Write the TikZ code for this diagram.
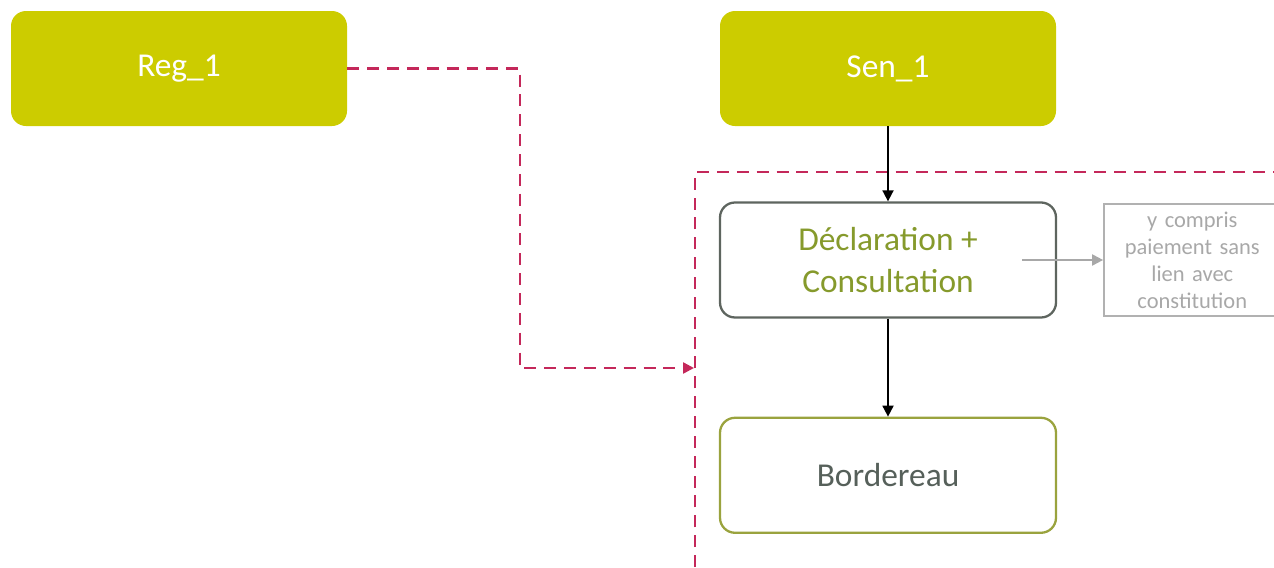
\documentclass[tikz,border=0pt]{standalone}
\usepackage{fontspec}
\setmainfont{Carlito}
\usepackage{tikz}
\usetikzlibrary{arrows.meta,positioning,calc}
\definecolor{RegYellow}{HTML}{CCCC00}
\definecolor{RegCrimson}{HTML}{C4285A}
\definecolor{RegSlate}{HTML}{5E655F}
\definecolor{RegOlive}{HTML}{869A2C}
\definecolor{RegMoss}{HTML}{9AA33E}
\definecolor{RegText}{HTML}{56605A}
\definecolor{RegGrey}{HTML}{A8A8A8}

\begin{document}
\begin{tikzpicture}[
    actor/.style={fill=RegYellow, rounded corners=3mm, minimum width=6.72cm,
      minimum height=2.30cm, text=white, font=\fontsize{19}{23}\selectfont},
    box/.style={draw, line width=1.3pt, rounded corners=3mm, fill=white,
      minimum width=6.72cm, minimum height=2.30cm, align=center,
      font=\fontsize{19}{24}\selectfont},
    task/.style={box, draw=RegSlate, text=RegOlive},
    output/.style={box, draw=RegMoss, text=RegText},
    note/.style={draw=RegGrey!90, line width=0.9pt, minimum width=3.44cm,
      minimum height=2.24cm, text width=3.3cm, align=center, text=RegGrey,
      font=\fontsize{12.8}{15.4}\selectfont},
    arrow/.style={-{Triangle[length=2.2mm,width=2.2mm]}, line width=1pt, draw=black},
    link/.style={-{Triangle[length=2.2mm,width=2.2mm]}, line width=1.4pt,
      draw=RegCrimson, dash pattern=on 6.8pt off 4.5pt},
    zone/.style={line width=1.4pt, draw=RegCrimson, dash pattern=on 6.8pt off 4.5pt},
    aside/.style={-{Triangle[length=2.2mm,width=2.2mm]}, line width=1.1pt, draw=RegGrey}
  ]
    \useasboundingbox (0,0) rectangle (25.48,-11.34);
    \node[actor] (reg) at (3.58,-1.37) {Reg\_1};
    \node[actor] (sen) at (17.76,-1.37) {Sen\_1};
    \node[task, below=1.50cm of sen] (decl) {Déclaration +\\Consultation};
    \node[output, below=1.96cm of decl] (bord) {Bordereau};
    \node[note, right=0.92cm of decl] (incl) {y compris\\paiement sans\\lien avec\\constitution};
    % zone boundary
    \coordinate (zonetop) at (13.90,-3.44);
    \coordinate (zoneend) at (25.48,-3.44);
    \coordinate (zonebot) at (13.90,-11.34);
    \coordinate (zonein) at (13.88,-7.36);
    \draw[zone] (zonebot) -- (zonetop) -- (zoneend);
    \draw[link] (reg.east) -- (10.40,-1.37) |- (zonein);
    \draw[arrow] (sen) -- (decl);
    \draw[arrow] (decl) -- (bord);
    \coordinate (asidestart) at ($(decl.center)+(2.68,0)$);
    \draw[aside] (asidestart) -- (asidestart -| incl.west);
  \end{tikzpicture}
\end{document}
